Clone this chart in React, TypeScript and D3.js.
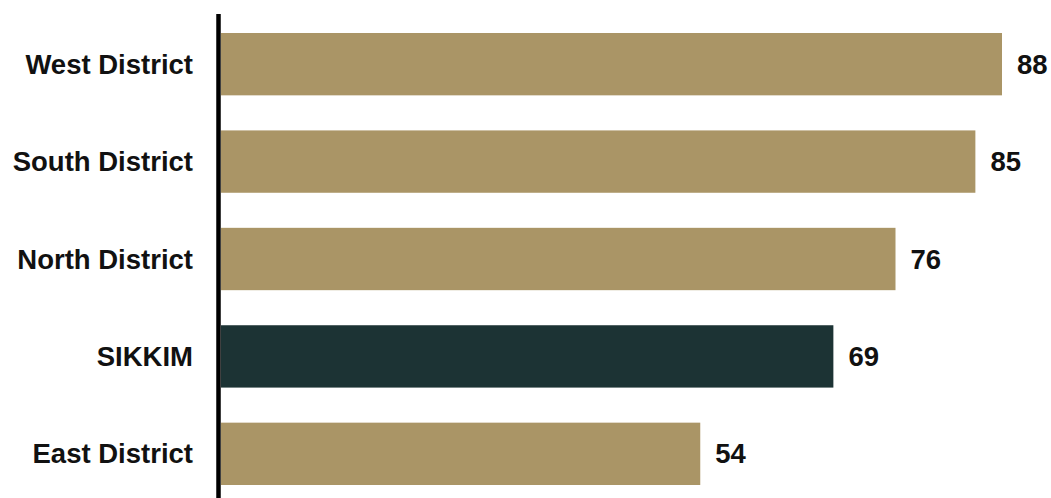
import React from 'react';
import * as d3 from 'd3';

// Chart data
const districts = ['West District', 'South District', 'North District', 'SIKKIM', 'East District'];
const scores = [88, 85, 76, 69, 54];
const highlight = ['SIKKIM'];

const App: React.FC = () => {
  const width = 1051;
  const height = 498;
  const axisX = 218.5;

  // Scales
  const xScale = d3.scaleLinear().domain([0, 88]).range([221, 1002]);
  const yScale = d3.scaleBand<string>().domain(districts).range([33, 485]).paddingInner(0.36).paddingOuter(0);

  const font = '"Liberation Sans", Arial, sans-serif';

  return (
    <svg
      width={width}
      height={height}
      style={{ position: 'absolute', left: 0, top: 0, background: '#fff' }}
    >
      {/* Bars */}
      {districts.map((d, i) => (
        <rect
          key={d}
          x={xScale(0)}
          y={yScale(d)!}
          width={xScale(scores[i]) - xScale(0)}
          height={yScale.bandwidth()}
          fill={highlight.includes(d) ? '#1c3334' : '#aa9566'}
        />
      ))}

      {/* Category labels */}
      {districts.map((d) => (
        <text
          key={'l' + d}
          x={193}
          y={yScale(d)! + yScale.bandwidth() / 2}
          dy="0.35em"
          textAnchor="end"
          fontFamily={font}
          fontWeight="bold"
          fontSize={27.5}
          fill="#111"
        >
          {d}
        </text>
      ))}

      {/* Value labels */}
      {districts.map((d, i) => (
        <text
          key={'v' + d}
          x={xScale(scores[i]) + 15}
          y={yScale(d)! + yScale.bandwidth() / 2}
          dy="0.35em"
          fontFamily={font}
          fontWeight="bold"
          fontSize={27.5}
          fill="#111"
        >
          {scores[i]}
        </text>
      ))}

      {/* Axis line */}
      <line x1={axisX} x2={axisX} y1={14} y2={height} stroke="#000" strokeWidth={4.5} />
    </svg>
  );
};

export default App;
